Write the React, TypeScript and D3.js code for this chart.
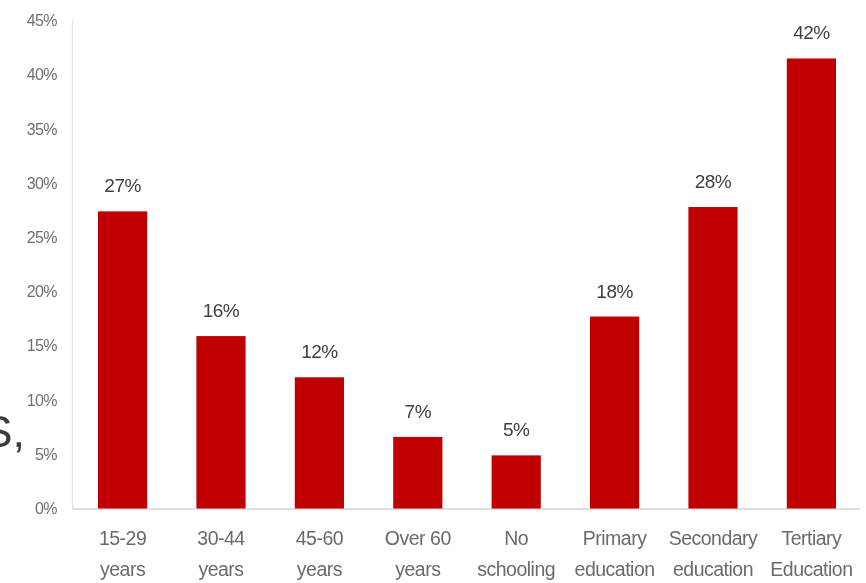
import React from "react";
import * as d3 from "d3";

const categories: string[][] = [
  ["15-29", "years"],
  ["30-44", "years"],
  ["45-60", "years"],
  ["Over 60", "years"],
  ["No", "schooling"],
  ["Primary", "education"],
  ["Secondary", "education"],
  ["Tertiary", "Education"],
];
const values: number[] = [27.4, 15.9, 12.1, 6.6, 4.9, 17.7, 27.8, 41.5];
const valueLabels: string[] = ["27%", "16%", "12%", "7%", "5%", "18%", "28%", "42%"];
const yTicks: number[] = [0, 5, 10, 15, 20, 25, 30, 35, 40, 45];

const W = 866;
const H = 583;
const FONT = "'Liberation Sans', Arial, sans-serif";

export default function App() {
  const x = d3
    .scaleBand<number>()
    .domain(d3.range(categories.length))
    .range([73.4, 860.6])
    .paddingInner(0.5)
    .paddingOuter(0.25);
  const y = d3.scaleLinear().domain([0, 45]).range([508.5, 20.5]);

  return (
    <svg
      width={W}
      height={H}
      style={{ position: "absolute", left: 0, top: 0, background: "#fff" }}
    >
      <defs>
        <filter id="soft" x="-5%" y="-5%" width="110%" height="110%">
          <feGaussianBlur stdDeviation="0.6" />
        </filter>
      </defs>
      <rect width={W} height={H} fill="#fff" />
      <g filter="url(#soft)">
        <line x1={72.5} x2={72.5} y1={20} y2={509} stroke="#e3e3e3" strokeWidth={1.2} />
        <line x1={72.5} x2={860} y1={509} y2={509} stroke="#d4d4d4" strokeWidth={1.5} />
        {yTicks.map((t) => (
          <text
            key={t}
            x={57}
            y={y(t)}
            dy="0.35em"
            textAnchor="end"
            fontFamily={FONT}
            fontSize={16}
            letterSpacing={-0.6}
            fill="#6e6e6e"
          >
            {t}%
          </text>
        ))}
        {values.map((v, i) => (
          <g key={i}>
            <rect
              x={x(i)}
              y={y(v)}
              width={x.bandwidth()}
              height={y(0) - y(v)}
              fill="#c00000"
            />
            <text
              x={(x(i) as number) + x.bandwidth() / 2}
              y={y(v) - 19}
              textAnchor="middle"
              fontFamily={FONT}
              fontSize={19}
              letterSpacing={-0.5}
              fill="#404040"
            >
              {valueLabels[i]}
            </text>
            {categories[i].map((line, j) => (
              <text
                key={j}
                x={(x(i) as number) + x.bandwidth() / 2}
                y={545 + j * 30.5}
                textAnchor="middle"
                fontFamily={FONT}
                fontSize={19.5}
                letterSpacing={-0.5}
                fill="#6a6a6a"
              >
                {line}
              </text>
            ))}
          </g>
        ))}
        <text
          x={25}
          y={447}
          textAnchor="end"
          fontFamily={FONT}
          fontSize={45}
          fill="#3a3a3a"
        >
          S,
        </text>
      </g>
    </svg>
  );
}
